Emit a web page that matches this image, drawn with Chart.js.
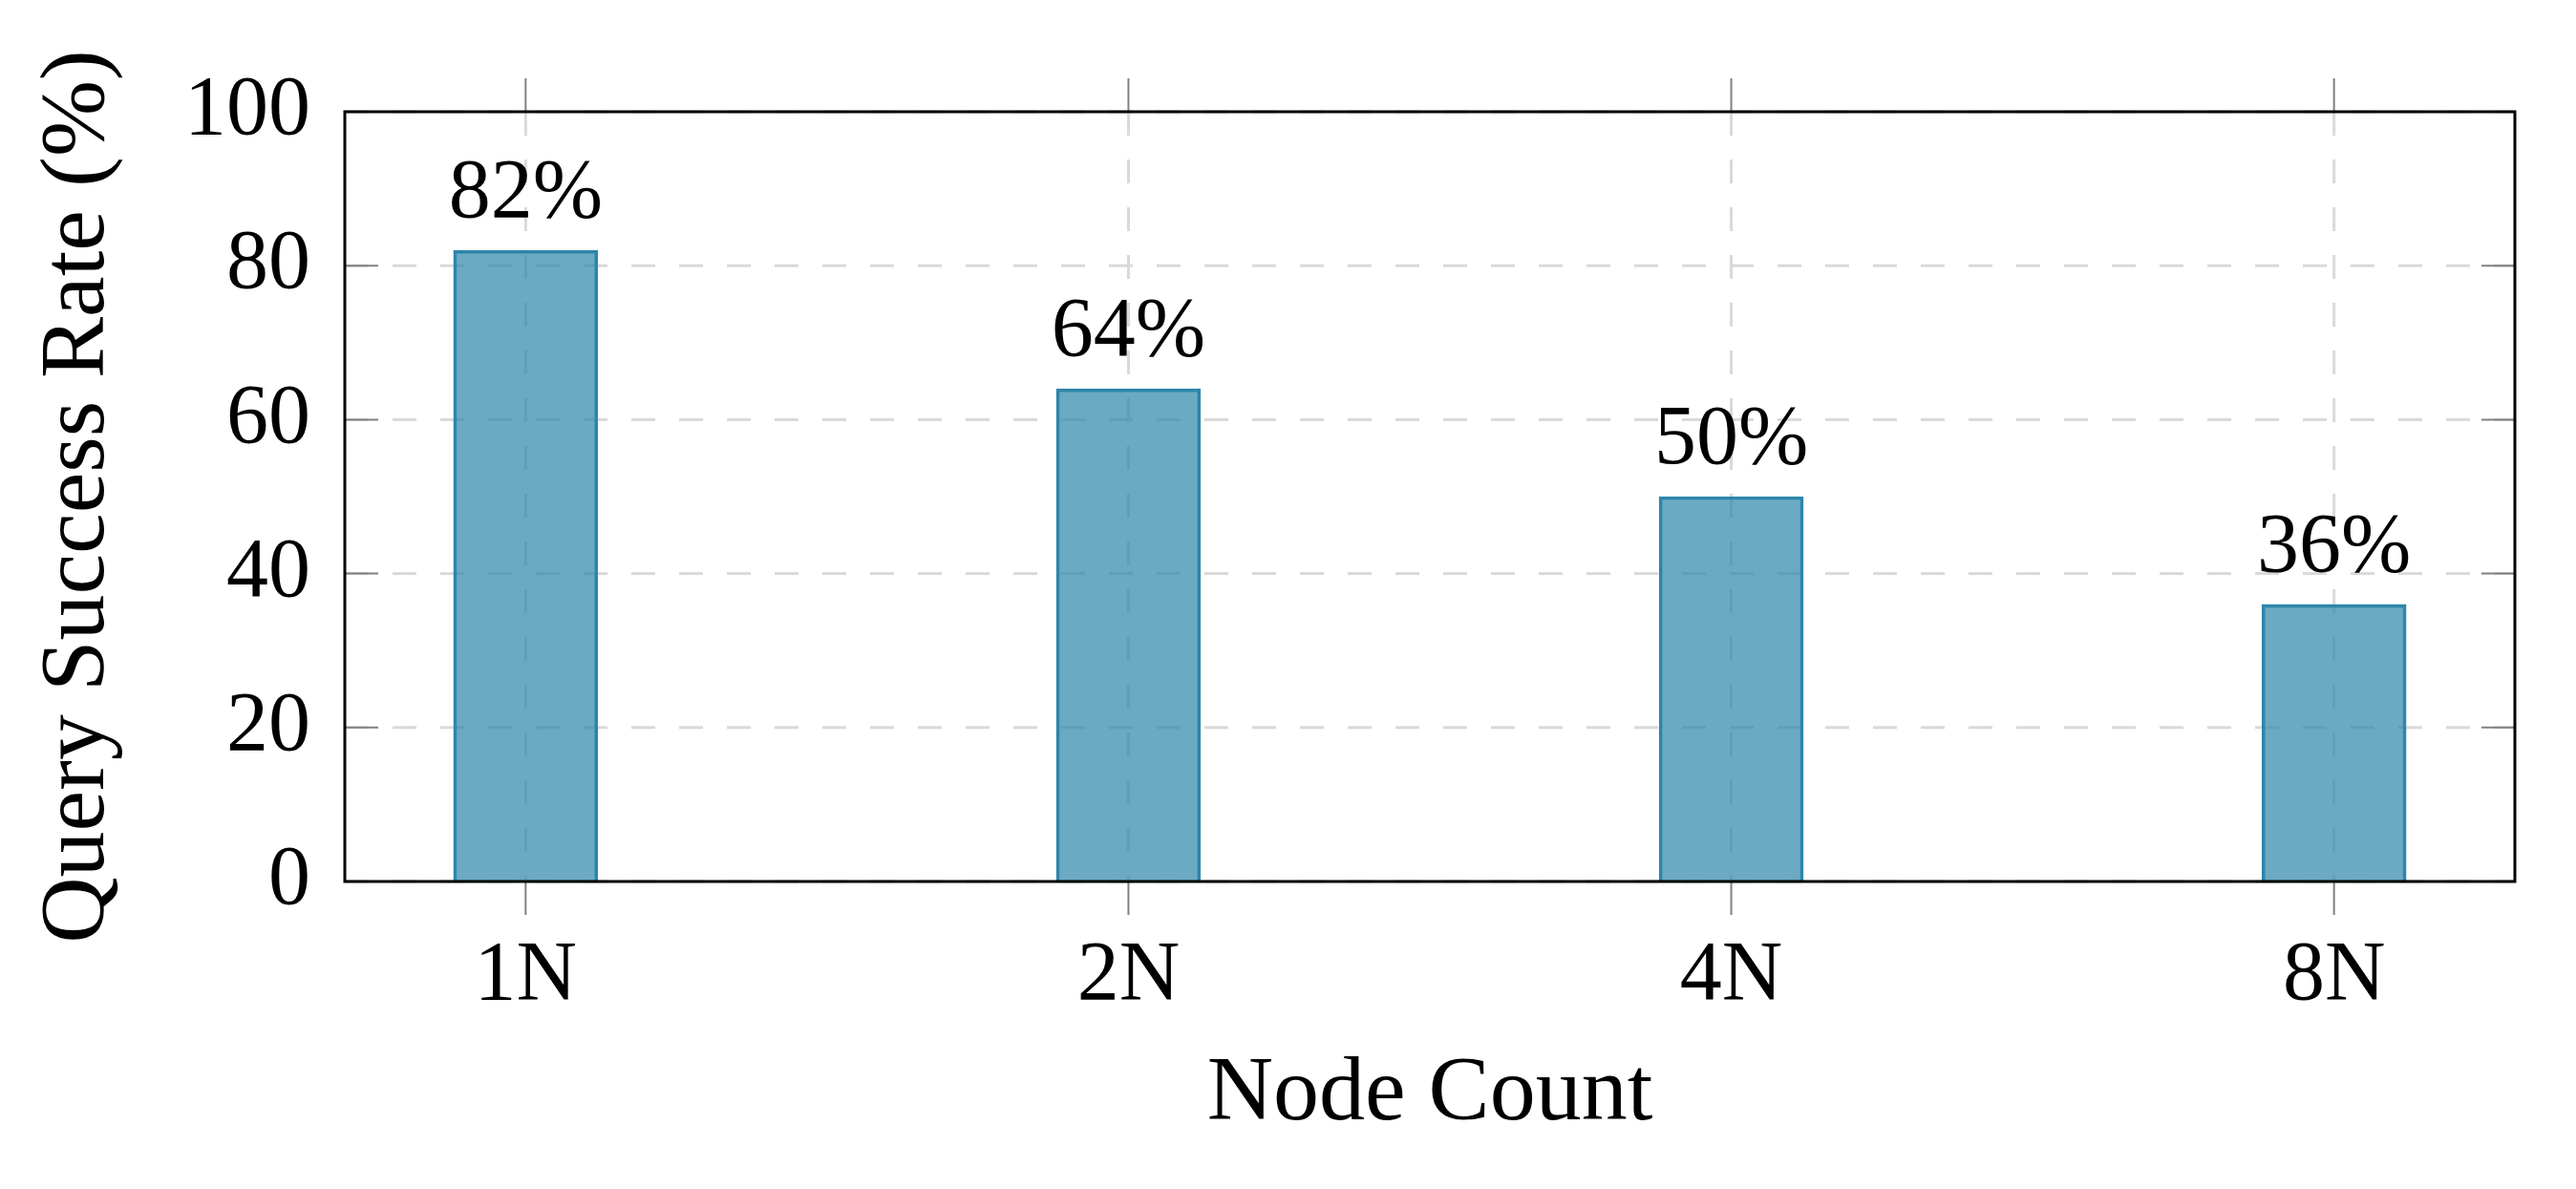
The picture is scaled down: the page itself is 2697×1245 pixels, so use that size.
<!DOCTYPE html>
<html>
<head>
<meta charset="utf-8">
<title>Query Success Rate</title>
<script src="https://cdn.jsdelivr.net/npm/chart.js@4.4.1/dist/chart.umd.min.js"></script>
<style>
    html, body { margin: 0; padding: 0; background: #ffffff; }
    #wrap { width: 2697px; height: 1245px; position: relative; }
</style>
</head>
<body>
<div id="wrap"><canvas id="chart-1"></canvas></div>
<script>
// data
const nodeCounts = ['1N', '2N', '4N', '8N'];
const successRate = [82, 64, 50, 36];
const yTicks = [0, 20, 40, 60, 80, 100];

const ctx = document.getElementById('chart-1').getContext('2d');

const barColor = '#2E86AB';
const barFill = 'rgba(46, 134, 171, 0.7)';
const gridColor = '#d9d9d9';
const tickColor = '#808080';

// dashed grid under the bars, frame + tick marks + value labels on top
const framePlugin = {
    id: 'frame',
    beforeDatasetsDraw(chart) {
        const c = chart.ctx;
        const area = chart.chartArea;
        const xs = chart.scales.x;
        const ys = chart.scales.y;
        c.save();
        c.strokeStyle = gridColor;
        c.lineWidth = 3;
        c.setLineDash([25, 25]);
        yTicks.forEach(v => {
            const y = ys.getPixelForValue(v);
            c.beginPath();
            c.moveTo(area.left, y);
            c.lineTo(area.right, y);
            c.stroke();
        });
        nodeCounts.forEach((n, i) => {
            const x = xs.getPixelForValue(i);
            c.beginPath();
            c.moveTo(x, area.top);
            c.lineTo(x, area.bottom);
            c.stroke();
        });
        c.restore();
    },
    afterDatasetsDraw(chart) {
        const c = chart.ctx;
        const area = chart.chartArea;
        const xs = chart.scales.x;
        const ys = chart.scales.y;
        const len = 35;
        c.save();
        c.strokeStyle = tickColor;
        c.lineWidth = 2;
        c.setLineDash([]);
        nodeCounts.forEach((n, i) => {
            const x = xs.getPixelForValue(i);
            c.beginPath();
            c.moveTo(x, area.bottom);
            c.lineTo(x, area.bottom + len);
            c.moveTo(x, area.top);
            c.lineTo(x, area.top - len);
            c.stroke();
        });
        yTicks.forEach(v => {
            const y = ys.getPixelForValue(v);
            c.beginPath();
            c.moveTo(area.left, y);
            c.lineTo(area.left + len, y);
            c.moveTo(area.right, y);
            c.lineTo(area.right - len, y);
            c.stroke();
        });

        c.strokeStyle = '#000000';
        c.lineWidth = 3;
        c.strokeRect(area.left, area.top, area.right - area.left, area.bottom - area.top);

        // value labels above each bar
        c.fillStyle = '#000000';
        c.font = "88px 'Liberation Serif', serif";
        c.textAlign = 'center';
        c.textBaseline = 'alphabetic';
        chart.getDatasetMeta(0).data.forEach((bar, i) => {
            c.fillText(successRate[i] + '%', bar.x, bar.y - 35);
        });
        c.restore();
    }
};

Chart.defaults.font.family = "'Liberation Serif', serif";
Chart.defaults.color = '#000000';

var data = {
    datasets: [
        {
            label: 'Query Success Rate',
            data: successRate.map((v, i) => ({ x: i, y: v })),
            backgroundColor: barFill,
            borderColor: barColor,
            borderWidth: 3,
            barThickness: 151
        }
    ]
};

var myBarChart = new Chart(ctx, {
    type: 'bar',
    data: data,
    plugins: [framePlugin],
    options: {
        animation: false,
        responsive: true,
        maintainAspectRatio: false,
        devicePixelRatio: 1,
        layout: {
            padding: { top: 117, right: 64, bottom: 0, left: 0 }
        },
        plugins: {
            legend: { display: false },
            tooltip: { enabled: false },
            title: { display: false }
        },
        scales: {
            x: {
                type: 'linear',
                offset: false,
                min: -0.3,
                max: 3.3,
                afterBuildTicks: axis => {
                    axis.ticks = nodeCounts.map((n, i) => ({ value: i }));
                },
                afterFit: axis => {
                    axis.height = 322;
                },
                grid: { display: false, drawTicks: false, offset: false },
                border: { display: false },
                ticks: {
                    padding: 47,
                    maxRotation: 0,
                    font: { size: 88 },
                    callback: v => nodeCounts[v]
                },
                title: {
                    display: true,
                    text: 'Node Count',
                    font: { size: 96 },
                    padding: { top: 0, bottom: 41 }
                }
            },
            y: {
                min: 0,
                max: 100,
                afterBuildTicks: axis => {
                    axis.ticks = yTicks.map(v => ({ value: v }));
                },
                afterFit: axis => {
                    axis.width = 361;
                },
                grid: { display: false, drawTicks: false },
                border: { display: false },
                ticks: {
                    padding: 36,
                    font: { size: 88 }
                },
                title: {
                    display: true,
                    text: 'Query Success Rate (%)',
                    font: { size: 96 },
                    padding: { top: 25, bottom: 0 }
                }
            }
        }
    }
});
</script>
</body>
</html>
